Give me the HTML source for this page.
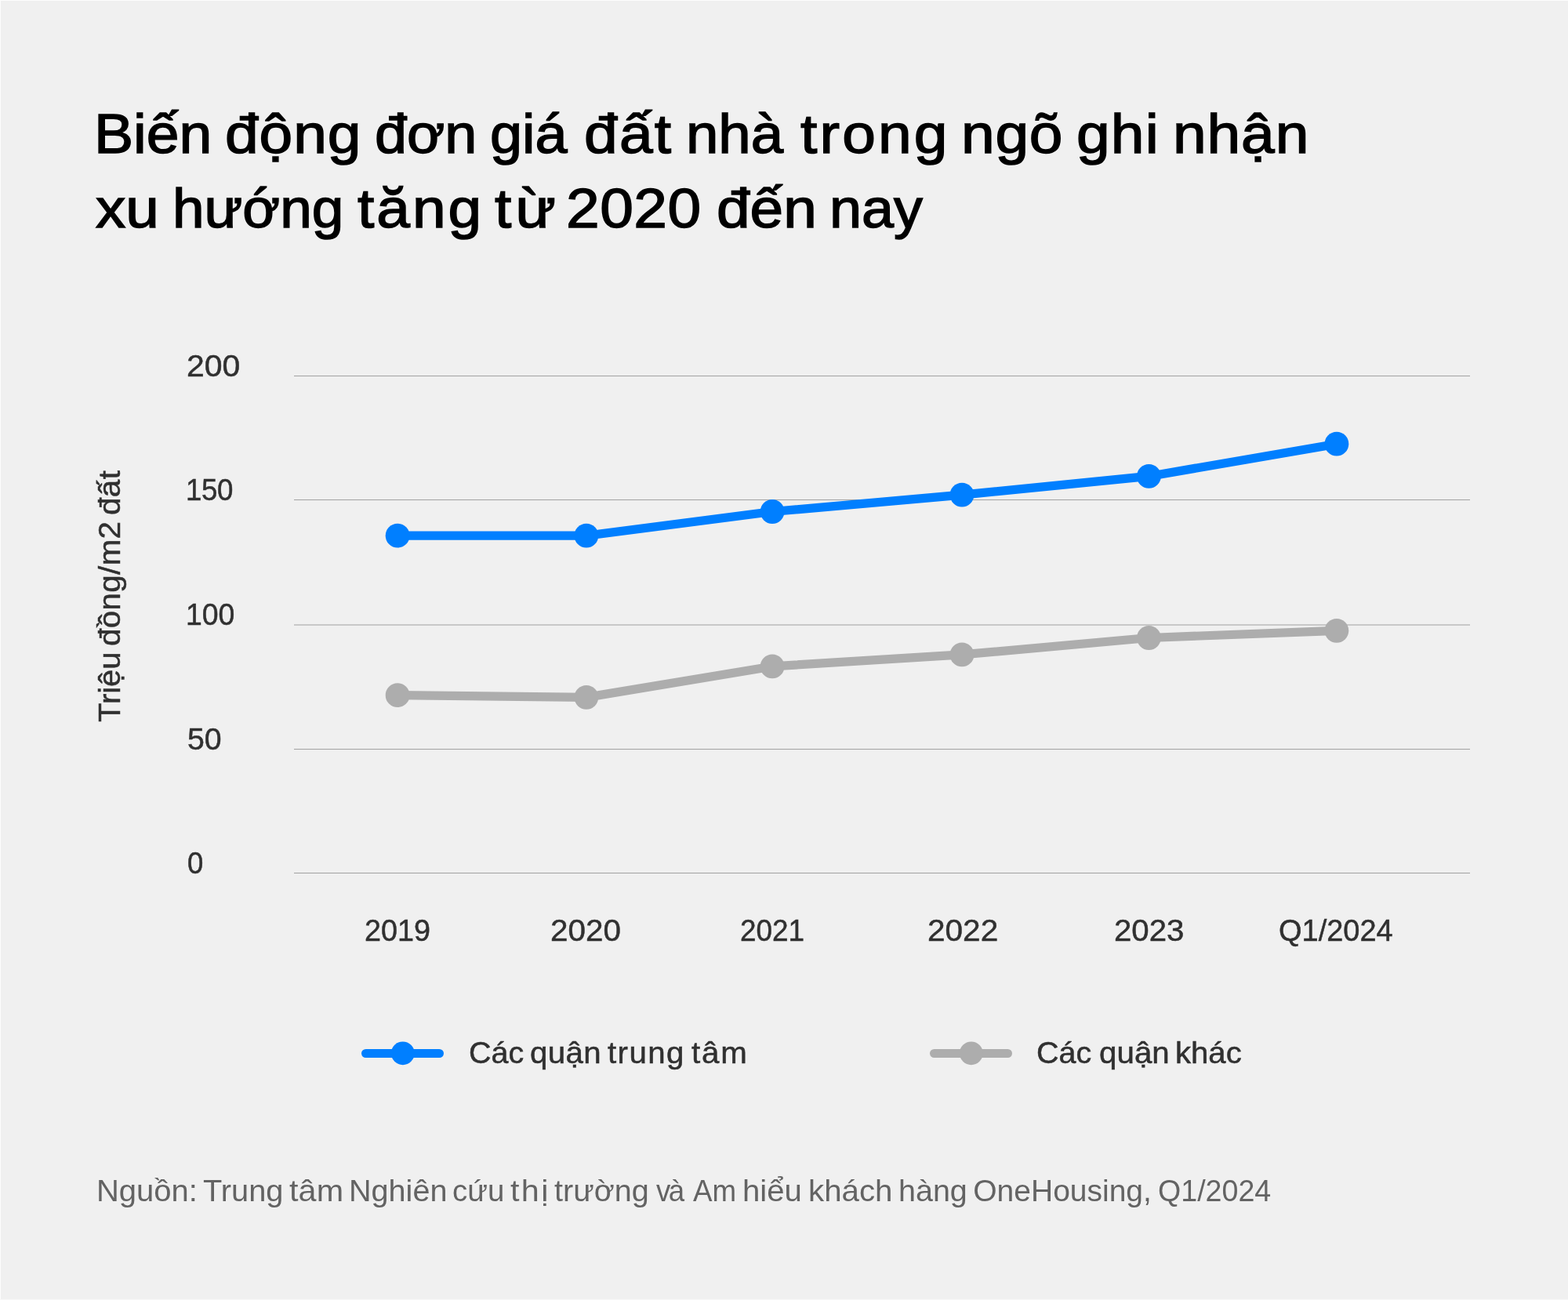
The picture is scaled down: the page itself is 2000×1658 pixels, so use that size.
<!DOCTYPE html>
<html lang="vi">
<head>
<meta charset="utf-8">
<title>Biến động đơn giá đất nhà trong ngõ</title>
<style>
  html, body { margin: 0; padding: 0; }
  body { width: 2000px; height: 1658px; overflow: hidden; background: #f0f0f0; }
  .card { position: relative; width: 2000px; height: 1658px; background: #f0f0f0; overflow: hidden;
          font-family: "Liberation Sans", sans-serif; }
  .edge-t { position: absolute; left: 0; top: 0; width: 2000px; height: 1px; background: #fdfdfd; }
  .edge-l { position: absolute; left: 0; top: 0; width: 1px; height: 1658px; background: #fdfdfd; }
  .edge-b { position: absolute; left: 0; top: 1657px; width: 2000px; height: 1px; background: #f8f8f8; }
  .t { margin: 0; padding: 0; font-weight: normal; }
  .t span { position: absolute; display: block; white-space: nowrap; line-height: 1; transform-origin: 0 0; }
  .title span { font-size: 71.0px; font-weight: normal; color: #000000; -webkit-text-stroke: 1.5px #000000; }
  .yaxis span { font-size: 39px; font-weight: normal; color: #303030; -webkit-text-stroke: 0.5px #303030; }
  .xaxis span { font-size: 39px; font-weight: normal; color: #303030; -webkit-text-stroke: 0.5px #303030; }
  .legend span { font-size: 38px; font-weight: normal; color: #303030; -webkit-text-stroke: 0.5px #303030; }
  .ytitle span { font-size: 38px; font-weight: normal; color: #303030; -webkit-text-stroke: 0.5px #303030; }
  .src span { font-size: 39px; font-weight: normal; color: #636363; }
  .ytitle { position: absolute; left: 153px; top: 921px; width: 0; height: 0; transform-origin: 0 0; transform: rotate(-90deg); }
  svg.chart { position: absolute; left: 0; top: 0; }
</style>
</head>
<body>
<div class="card">
  <div class="edge-t"></div><div class="edge-l"></div><div class="edge-b"></div>

  <h1 class="t title">
    <span style="left:119.71px;top:135px;transform:scaleX(1.0582)">Biến</span>
    <span style="left:286.57px;top:135px;letter-spacing:0.88px;transform:scaleX(1.0800)">động</span>
    <span style="left:477.67px;top:135px;transform:scaleX(1.0377)">đơn</span>
    <span style="left:624.66px;top:135px;transform:scaleX(1.0402)">giá</span>
    <span style="left:744.57px;top:135px;letter-spacing:2.09px;transform:scaleX(1.0800)">đất</span>
    <span style="left:875.07px;top:135px;transform:scaleX(1.0476)">nhà</span>
    <span style="left:1020.73px;top:135px;letter-spacing:2.92px;transform:scaleX(1.0800)">trong</span>
    <span style="left:1225.95px;top:135px;letter-spacing:0.69px;transform:scaleX(1.0800)">ngõ</span>
    <span style="left:1372.57px;top:135px;letter-spacing:1.12px;transform:scaleX(1.0800)">ghi</span>
    <span style="left:1495.95px;top:135px;letter-spacing:0.84px;transform:scaleX(1.0800)">nhận</span>
    <span style="left:121.54px;top:230px;transform:scaleX(1.0769)">xu</span>
    <span style="left:219.64px;top:230px;transform:scaleX(1.0269)">hướng</span>
    <span style="left:455.73px;top:230px;letter-spacing:2.78px;transform:scaleX(1.0800)">tăng</span>
    <span style="left:630.73px;top:230px;letter-spacing:4.87px;transform:scaleX(1.0800)">từ</span>
    <span style="left:722.03px;top:230px;letter-spacing:0.46px;transform:scaleX(1.0800)">2020</span>
    <span style="left:913.57px;top:230px;transform:scaleX(1.0780)">đến</span>
    <span style="left:1058.11px;top:230px;transform:scaleX(1.0380)">nay</span>
  </h1>

  <svg class="chart" width="2000" height="1658" viewBox="0 0 2000 1658">
    <g>
      <rect x="375" y="478.98" width="1500" height="1.05" fill="#a4a4a4"/>
      <rect x="375" y="636.98" width="1500" height="1.05" fill="#a4a4a4"/>
      <rect x="375" y="796.48" width="1500" height="1.05" fill="#a4a4a4"/>
      <rect x="375" y="954.98" width="1500" height="1.05" fill="#a4a4a4"/>
      <rect x="375" y="1112.97" width="1500" height="1.05" fill="#a4a4a4"/>
    </g>
    <g>
      <polyline points="507.1,886.7 747.9,889.3 985.1,849.9 1227.0,834.9 1465.4,813.5 1704.9,804.3" fill="none" stroke="#adadad" stroke-width="11.2" stroke-linejoin="round" stroke-linecap="round"/>
      <circle cx="507.1" cy="886.7" r="15.4" fill="#adadad"/>
      <circle cx="747.9" cy="889.3" r="15.4" fill="#adadad"/>
      <circle cx="985.1" cy="849.9" r="15.4" fill="#adadad"/>
      <circle cx="1227.0" cy="834.9" r="15.4" fill="#adadad"/>
      <circle cx="1465.4" cy="813.5" r="15.4" fill="#adadad"/>
      <circle cx="1704.9" cy="804.3" r="15.4" fill="#adadad"/>
    </g>
    <g>
      <polyline points="507.1,683.2 747.9,683.2 985.1,652.5 1227.0,631.1 1465.4,607.4 1704.9,566.2" fill="none" stroke="#007fff" stroke-width="11.2" stroke-linejoin="round" stroke-linecap="round"/>
      <circle cx="507.1" cy="683.2" r="15.4" fill="#007fff"/>
      <circle cx="747.9" cy="683.2" r="15.4" fill="#007fff"/>
      <circle cx="985.1" cy="652.5" r="15.4" fill="#007fff"/>
      <circle cx="1227.0" cy="631.1" r="15.4" fill="#007fff"/>
      <circle cx="1465.4" cy="607.4" r="15.4" fill="#007fff"/>
      <circle cx="1704.9" cy="566.2" r="15.4" fill="#007fff"/>
    </g>
    <g>
      <line x1="466.6" y1="1343.5" x2="560.4" y2="1343.5" stroke="#007fff" stroke-width="11.2" stroke-linecap="round"/>
      <circle cx="513.8" cy="1343.3" r="14.9" fill="#007fff"/>
      <line x1="1191.6" y1="1343.5" x2="1285.4" y2="1343.5" stroke="#adadad" stroke-width="11.2" stroke-linecap="round"/>
      <circle cx="1238.8" cy="1343.3" r="14.9" fill="#adadad"/>
    </g>
  </svg>

  <div class="t yaxis">
    <span style="left:237.67px;top:446px;transform:translateY(0.50px) scaleX(1.0484)">200</span>
    <span style="left:236.91px;top:605px;letter-spacing:-0.45px;transform:translateY(0.20px) scaleX(0.9400)">150</span>
    <span style="left:236.86px;top:764px;transform:scaleX(0.9590)">100</span>
    <span style="left:238.74px;top:922px;transform:translateY(0.50px) scaleX(1.0061)">50</span>
    <span style="left:239.33px;top:1081px;transform:translateY(0.20px) scaleX(0.9351)">0</span>
  </div>

  <div class="t ytitle">
    <span style="left:-0.22px;top:-32px;transform:scaleX(1.0497)">Triệu</span>
    <span style="left:97.47px;top:-32px;letter-spacing:0.35px;transform:scaleX(1.0600)">đồng/m2</span>
    <span style="left:264.18px;top:-32px;letter-spacing:0.43px;transform:scaleX(1.0600)">đất</span>
  </div>

  <div class="t xaxis">
    <span style="left:465.11px;top:1167px;transform:scaleX(0.9677)">2019</span>
    <span style="left:701.79px;top:1167px;transform:scaleX(1.0364)">2020</span>
    <span style="left:943.94px;top:1167px;transform:scaleX(0.9465)">2021</span>
    <span style="left:1182.58px;top:1167px;transform:scaleX(1.0402)">2022</span>
    <span style="left:1420.80px;top:1167px;transform:scaleX(1.0299)">2023</span>
    <span style="left:1631.14px;top:1167px;transform:scaleX(0.9739)">Q1/2024</span>
  </div>

  <div class="t legend">
    <span style="left:598.18px;top:1323px;transform:translateY(0.60px) scaleX(1.0385)">Các</span>
    <span style="left:676.17px;top:1323px;letter-spacing:0.36px;transform:translateY(0.60px) scaleX(1.0600)">quận</span>
    <span style="left:774.74px;top:1323px;letter-spacing:1.34px;transform:translateY(0.60px) scaleX(1.0600)">trung</span>
    <span style="left:881.74px;top:1323px;letter-spacing:1.70px;transform:translateY(0.60px) scaleX(1.0600)">tâm</span>
  </div>
  <div class="t legend">
    <span style="left:1322.18px;top:1323px;transform:translateY(0.60px) scaleX(1.0385)">Các</span>
    <span style="left:1401.67px;top:1323px;letter-spacing:0.04px;transform:translateY(0.60px) scaleX(1.0600)">quận</span>
    <span style="left:1499.13px;top:1323px;transform:translateY(0.60px) scaleX(1.0550)">khác</span>
  </div>

  <p class="t src">
    <span style="left:122.67px;top:1499px;transform:scaleX(1.0252)">Nguồn:</span>
    <span style="left:258.98px;top:1499px;transform:scaleX(1.0206)">Trung</span>
    <span style="left:369.47px;top:1499px;letter-spacing:0.13px;transform:scaleX(1.0600)">tâm</span>
    <span style="left:444.70px;top:1499px;transform:scaleX(1.0149)">Nghiên</span>
    <span style="left:577.28px;top:1499px;transform:scaleX(0.9841)">cứu</span>
    <span style="left:651.47px;top:1499px;letter-spacing:2.23px;transform:scaleX(1.0600)">thị</span>
    <span style="left:707.49px;top:1499px;transform:scaleX(1.0151)">trường</span>
    <span style="left:836.76px;top:1499px;letter-spacing:-2.70px;transform:scaleX(0.9400)">và</span>
    <span style="left:883.76px;top:1499px;transform:scaleX(0.9417)">Am</span>
    <span style="left:946.67px;top:1499px;transform:scaleX(1.0292)">hiểu</span>
    <span style="left:1030.66px;top:1499px;transform:scaleX(1.0329)">khách</span>
    <span style="left:1145.72px;top:1499px;transform:scaleX(1.0123)">hàng</span>
    <span style="left:1241.25px;top:1499px;transform:scaleX(1.0000)">OneHousing,</span>
    <span style="left:1477.31px;top:1499px;transform:scaleX(0.9642)">Q1/2024</span>
  </p>
</div>
</body>
</html>
